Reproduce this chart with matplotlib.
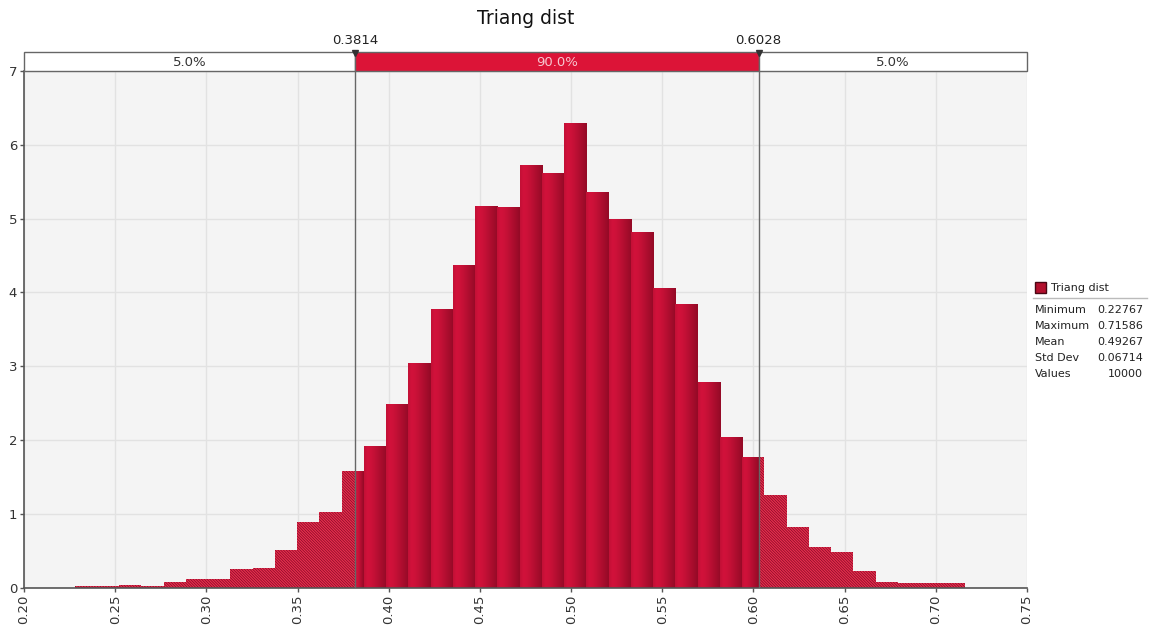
import numpy as np
import matplotlib.pyplot as plt
from matplotlib.patches import Rectangle

# -----------------------------
# Data
# -----------------------------
title = "Triang dist"
v_min = 0.22767
v_max = 0.71586
v_mean = 0.49267
v_std = 0.06714
n_values = 10000

# density per bin (40 equal bins between min and max)
heights = [0.02, 0.02, 0.035, 0.015, 0.07, 0.11, 0.11, 0.25, 0.27, 0.51,
           0.89, 1.02, 1.58, 1.92, 2.48, 3.04, 3.78, 4.37, 5.17, 5.15,
           5.73, 5.62, 6.30, 5.36, 5.00, 4.82, 4.06, 3.84, 2.78, 2.04,
           1.77, 1.26, 0.82, 0.55, 0.48, 0.23, 0.08, 0.06, 0.06, 0.06]

left_cut = 0.3814
right_cut = 0.6028
band_labels = ["5.0%", "90.0%", "5.0%"]

x_ticks = [0.20, 0.25, 0.30, 0.35, 0.40, 0.45, 0.50, 0.55, 0.60, 0.65, 0.70, 0.75]
y_ticks = [0, 1, 2, 3, 4, 5, 6, 7]

stat_names = ["Minimum", "Maximum", "Mean", "Std Dev", "Values"]
stat_values = ["%.5f" % v_min, "%.5f" % v_max, "%.5f" % v_mean,
               "%.5f" % v_std, "%d" % n_values]

# -----------------------------
# Styles
# -----------------------------
red = "#dc1437"
hatch_face = "#e8304f"
hatch_line = "#8a0a26"
bg = "#f4f4f4"
grid_col = "#e2e2e2"
axis_col = "#555555"

plt.rcParams['font.family'] = ['DejaVu Sans']
plt.rcParams['hatch.linewidth'] = 0.55

fig = plt.figure(figsize=(11.51, 6.32), dpi=100)
ax = fig.add_axes([0.0209, 0.0704, 0.8714, 0.8173])
band = fig.add_axes([0.0209, 0.8877, 0.8714, 0.030], sharex=ax)

edges = np.linspace(v_min, v_max, len(heights) + 1)

# gradient profile across one bar: bright on the left, dark on the right
prof = np.array([0.75, 1.0, 0.95, 0.8, 0.6, 0.4, 0.2, 0.0])
prof = np.interp(np.linspace(0, 1, 64), np.linspace(0, 1, len(prof)), prof)
bright = np.array([0.82, 0.07, 0.23])
dark = np.array([0.58, 0.04, 0.15])
grad = dark[None, :] + prof[:, None] * (bright - dark)[None, :]
grad = grad[None, :, :]


def hatched(x0, x1, h):
    ax.bar(x0, h, width=x1 - x0, align='edge', color=hatch_face,
           edgecolor=hatch_line, linewidth=0, hatch='\\' * 12, zorder=2)


def solid(x0, x1, h):
    ax.imshow(grad, extent=[x0, x1, 0, h], aspect='auto',
              interpolation='bilinear', zorder=2)


for i, h in enumerate(heights):
    x0, x1 = edges[i], edges[i + 1]
    if x1 <= left_cut or x0 >= right_cut:
        hatched(x0, x1, h)
    elif x0 < left_cut:
        hatched(x0, left_cut, h)
        solid(left_cut, x1, h)
    elif x1 > right_cut:
        solid(x0, right_cut, h)
        hatched(right_cut, x1, h)
    else:
        solid(x0, x1, h)

for xc in [left_cut, right_cut]:
    ax.axvline(xc, color="#666666", lw=1.0, zorder=3)

ax.set_facecolor(bg)
ax.set_xlim(0.20, 0.75)
ax.set_ylim(0, 7)
ax.set_xticks(x_ticks)
ax.set_xticklabels(["%.2f" % t for t in x_ticks], rotation=90, fontsize=9.5)
ax.set_yticks(y_ticks)
ax.set_yticklabels([str(t) for t in y_ticks], fontsize=9.5)
ax.grid(True, color=grid_col, lw=1.0, zorder=0)
ax.set_axisbelow(True)
for s in ['top', 'right']:
    ax.spines[s].set_visible(False)
for s in ['left', 'bottom']:
    ax.spines[s].set_color(axis_col)
    ax.spines[s].set_linewidth(1.2)
ax.tick_params(axis='both', colors=axis_col, labelcolor="#333333",
               length=3, width=1, pad=2)

# -----------------------------
# Top band with percentiles
# -----------------------------
band.set_xlim(0.20, 0.75)
band.set_ylim(0, 1)
band.axis('off')
segs = [(0.20, left_cut, "white", "#333333"),
        (left_cut, right_cut, red, "#f6c6cf"),
        (right_cut, 0.75, "white", "#333333")]
for (a, b, fc, tc), lab in zip(segs, band_labels):
    band.add_patch(Rectangle((a, 0), b - a, 1, facecolor=fc,
                             edgecolor="#666666", lw=1.0, clip_on=False))
    band.text((a + b) / 2, 0.45, lab, ha='center', va='center',
              fontsize=9.5, color=tc)
for xc in [left_cut, right_cut]:
    band.plot([xc], [0.93], marker='v', color="#333333", ms=5,
              clip_on=False, zorder=5)
    band.text(xc, 1.25, "%.4f" % xc, ha='center', va='bottom',
              fontsize=9.5, color="#222222")

fig.text(0.4565, 0.971, title, ha='center', va='center', fontsize=13.5,
         color="#111111")

# -----------------------------
# Legend / statistics box
# -----------------------------
fig.patches.append(Rectangle((1035 / 1151, 1 - 293 / 632), 11 / 1151, 11 / 632,
                             transform=fig.transFigure, facecolor="#b3102e",
                             edgecolor="#4a0614", lw=1.0))
fig.text(1051 / 1151, 1 - 288 / 632, "Triang dist", ha='left', va='center',
         fontsize=8, color="#222222")
fig.add_artist(plt.Line2D([1033 / 1151, 1147 / 1151],
                          [1 - 298 / 632, 1 - 298 / 632],
                          transform=fig.transFigure, color="#bbbbbb", lw=1))
for k, (nm, val) in enumerate(zip(stat_names, stat_values)):
    yy = 1 - (310 + 16 * k) / 632
    fig.text(1035 / 1151, yy, nm, ha='left', va='center', fontsize=8,
             color="#222222")
    fig.text(1143 / 1151, yy, val, ha='right', va='center', fontsize=8,
             color="#222222")

fig.savefig("out.png", dpi=100)
